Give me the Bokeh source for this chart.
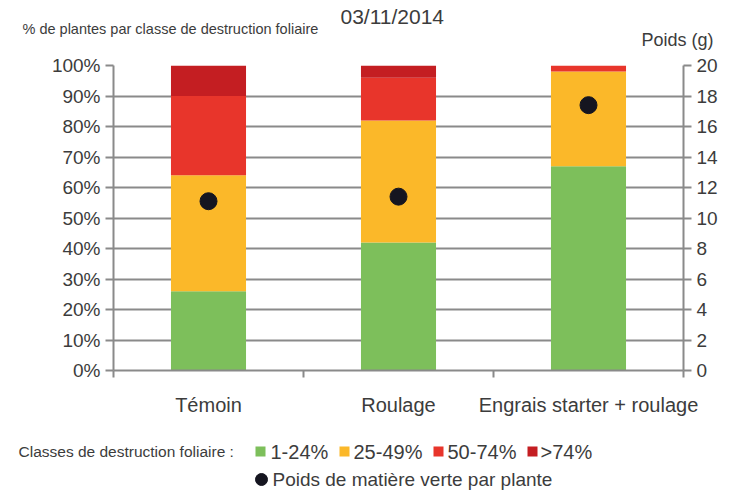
from bokeh.plotting import figure
from bokeh.layouts import column
from bokeh.models import Range1d, LinearAxis, FixedTicker, Label, ColumnDataSource
from bokeh.embed import file_html
from bokeh.resources import INLINE

# ---- data ----
categories = ["Témoin", "Roulage", "Engrais starter + roulage"]
classes = ["1-24%", "25-49%", "50-74%", ">74%"]
class_1_24 = [26, 42, 67]
class_25_49 = [38, 40, 31]
class_50_74 = [26, 14, 2]
class_gt74 = [10, 4, 0]
poids = [11.1, 11.4, 17.4]
left_ticks = [0, 10, 20, 30, 40, 50, 60, 70, 80, 90, 100]
left_tick_labels = ["0%", "10%", "20%", "30%", "40%", "50%", "60%", "70%", "80%", "90%", "100%"]
right_ticks = [0, 2, 4, 6, 8, 10, 12, 14, 16, 18, 20]
title_date = "03/11/2014"
left_title = "% de plantes par classe de destruction foliaire"
right_title = "Poids (g)"
legend_title = "Classes de destruction foliaire :"
dot_label = "Poids de matière verte par plante"

colors = ["#7DBF5B", "#FBB829", "#E8352B", "#C41E22"]
DOT = "#151520"
FONT = "Liberation Sans"
TXT = "#3c3c3c"
GRAY = "#8a8a8a"
W = 724


def blank(height):
    f = figure(width=W, height=height, x_range=Range1d(0, W), y_range=Range1d(height, 0),
               output_backend="svg", toolbar_location=None, min_border=0,
               min_border_left=0, min_border_right=0, min_border_top=0, min_border_bottom=0,
               x_axis_location=None, y_axis_location=None)
    f.frame_align = False
    f.grid.visible = False
    f.outline_line_color = None
    return f


def lab(f, text, x, y, size, align="left"):
    f.add_layout(Label(text=text, x=x, y=y, text_font=FONT, text_font_size=size,
                       text_color=TXT, text_align=align, text_baseline="middle"))


# ---- header ----
head = blank(50)
lab(head, left_title, 22, 28, "14.5px")
lab(head, title_date, 340, 16, "21px")
lab(head, right_title, 713, 39, "18px", align="right")

# ---- main chart ----
xs = [i + 0.5 for i in range(len(categories))]
src = ColumnDataSource(dict(x=xs, c1=class_1_24, c2=class_25_49, c3=class_50_74, c4=class_gt74, w=poids))

p = figure(width=W, height=368, x_range=Range1d(0, 3), y_range=Range1d(0, 100),
           output_backend="svg", toolbar_location=None,
           min_border_left=113, min_border_right=41, min_border_top=15, min_border_bottom=45)
p.outline_line_color = None
p.xgrid.visible = False
p.ygrid.ticker = FixedTicker(ticks=left_ticks)
p.ygrid.grid_line_color = GRAY
p.ygrid.grid_line_width = 2

p.vbar_stack(["c1", "c2", "c3", "c4"], x="x", width=0.395, source=src, color=colors, line_color=None)

p.extra_y_ranges = {"w": Range1d(0, 20)}
p.scatter("x", "w", source=src, y_range_name="w", size=17, color=DOT)

ya = p.yaxis[0]
ya.ticker = FixedTicker(ticks=left_ticks)
ya.major_label_overrides = {t: l for t, l in zip(left_ticks, left_tick_labels)}

ra = LinearAxis(y_range_name="w", ticker=FixedTicker(ticks=right_ticks))
p.add_layout(ra, "right")

for ax in (ya, ra):
    ax.axis_line_color = GRAY
    ax.axis_line_width = 2
    ax.major_tick_line_color = GRAY
    ax.major_tick_line_width = 2
    ax.major_tick_out = 8
    ax.major_tick_in = 0
    ax.minor_tick_line_color = None
    ax.major_label_text_font = FONT
    ax.major_label_text_font_size = "19px"
    ax.major_label_text_color = TXT
    ax.major_label_standoff = 5

xa = p.xaxis[0]
xa.ticker = FixedTicker(ticks=xs, minor_ticks=[0, 1, 2, 3])
xa.major_label_overrides = {x: c for x, c in zip(xs, categories)}
xa.axis_line_color = GRAY
xa.axis_line_width = 2
xa.major_tick_line_color = None
xa.major_tick_out = 0
xa.major_tick_in = 0
xa.minor_tick_line_color = GRAY
xa.minor_tick_line_width = 2
xa.minor_tick_out = 7
xa.minor_tick_in = 0
xa.major_label_text_font = FONT
xa.major_label_text_font_size = "20px"
xa.major_label_text_color = TXT
xa.major_label_standoff = 16

# ---- legend / footer ----
foot = blank(72)
lab(foot, legend_title, 18, 33, "15.5px")
key_x = [260, 344, 438, 532]
txt_x = [270, 353, 447, 540]
foot.scatter(key_x, [33] * 4, marker="square", size=10, color=colors, line_color=None)
for name, tx in zip(classes, txt_x):
    lab(foot, name, tx, 33, "20px")
foot.scatter([261], [61], marker="circle", size=12, color=DOT)
lab(foot, dot_label, 272, 61, "19px")

layout = column(head, p, foot, spacing=0)
open("out.html", "w").write(file_html(layout, INLINE))
